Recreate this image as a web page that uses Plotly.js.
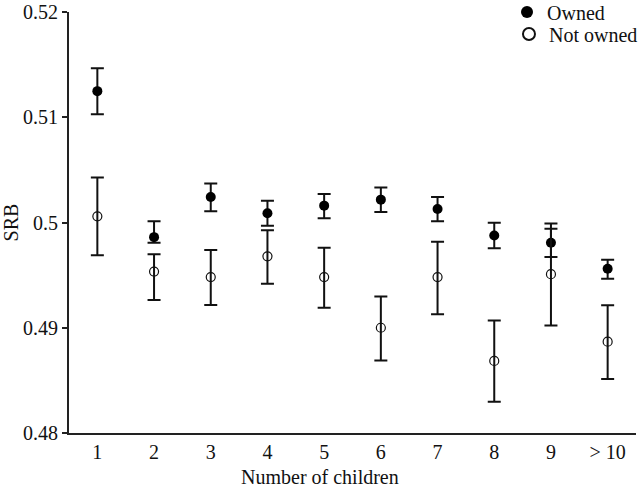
<!DOCTYPE html>
<html>
<head>
<meta charset="utf-8">
<script src="https://cdn.plot.ly/plotly-3.0.1.min.js"></script>
<style>html,body{margin:0;padding:0;background:#fff}#chart{width:641px;height:488px}</style>
</head>
<body>
<div id="chart"></div>
<script>
const categories = ["1","2","3","4","5","6","7","8","9","> 10"];

const ownedSRB   = [0.51248,0.49861,0.50242,0.50088,0.50160,0.50217,0.50128,0.49877,0.49807,0.49560];
const ownedUpper = [0.51465,0.50012,0.50371,0.50207,0.50270,0.50333,0.50242,0.49997,0.49940,0.49647];
const ownedLower = [0.51028,0.49807,0.50107,0.49968,0.50041,0.50100,0.50012,0.49755,0.49673,0.49465];

const notOwnedSRB   = [0.50059,0.49534,0.49481,0.49679,0.49481,0.49000,0.49481,0.48685,0.49509,0.48868];
const notOwnedUpper = [0.50427,0.49698,0.49739,0.49927,0.49761,0.49298,0.49818,0.49069,0.49990,0.49214];
const notOwnedLower = [0.49689,0.49264,0.49216,0.49418,0.49191,0.48689,0.49128,0.48298,0.49022,0.48512];

const yTicks = [0.48,0.49,0.50,0.51,0.52];
const yTickText = ["0.48","0.49","0.5","0.51","0.52"];

function errs(mid, up, lo){
  return {
    type:'data', symmetric:false,
    array: up.map((u,i)=>u-mid[i]),
    arrayminus: lo.map((l,i)=>mid[i]-l),
    color:'#111', thickness:2, width:6.5
  };
}

const font = {family:'"Liberation Serif", "Times New Roman", serif', size:20, color:'#111'};

const traces = [
  {x:categories, y:ownedSRB, name:'Owned', mode:'markers', type:'scatter',
   legend:'legend',
   marker:{symbol:'circle', size:10, color:'#000', line:{width:0}},
   error_y: errs(ownedSRB, ownedUpper, ownedLower)},
  {x:categories, y:notOwnedSRB, name:'Not owned', mode:'markers', type:'scatter',
   legend:'legend2',
   marker:{symbol:'circle-open', size:9, color:'#111', line:{width:1.2}},
   error_y: errs(notOwnedSRB, notOwnedUpper, notOwnedLower)}
];

const legendCommon = {xanchor:'left', yanchor:'middle', bgcolor:'rgba(0,0,0,0)',
                      font:font, itemsizing:'constant', borderwidth:0};

const layout = {
  width:641, height:488,
  margin:{l:69, r:5, t:12, b:55, autoexpand:false},
  paper_bgcolor:'#fff', plot_bgcolor:'#fff',
  font: font,
  showlegend:true,
  legend: Object.assign({x:0.7725, y:1.0000}, legendCommon),
  legend2: Object.assign({x:0.7760, y:0.9477}, legendCommon),
  xaxis:{type:'category', categoryorder:'array', categoryarray:categories,
         range:[-0.5,9.5], showgrid:false, zeroline:false,
         showline:true, linecolor:'#222', linewidth:2, ticks:'',
         tickfont:font, ticklabeloverflow:'allow'},
  yaxis:{range:[0.48,0.52], tickvals:yTicks, ticktext:yTickText,
         showgrid:false, zeroline:false, showline:true, linecolor:'#222', linewidth:2,
         ticks:'outside', ticklen:5, tickwidth:2, tickcolor:'#222',
         tickfont:font, ticklabeloverflow:'allow'},
  annotations:[
    {text:'Number of children', xref:'paper', yref:'paper', x:0.4427, y:-0.1045,
     xanchor:'center', yanchor:'middle', showarrow:false, font:font},
    {text:'SRB', xref:'paper', yref:'paper', x:-0.1023, y:0.5, textangle:-90,
     xanchor:'center', yanchor:'middle', showarrow:false, font:font}
  ]
};

Plotly.newPlot('chart', traces, layout, {displayModeBar:false, staticPlot:true});
</script>
</body>
</html>
